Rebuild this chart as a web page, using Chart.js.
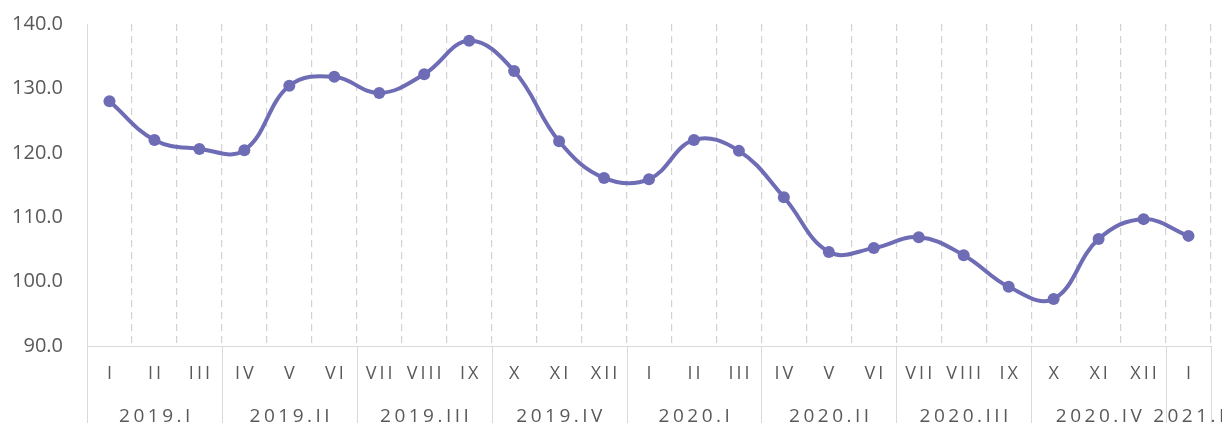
<!DOCTYPE html>
<html>
<head>
<meta charset="utf-8">
<script src="https://cdn.jsdelivr.net/npm/chart.js@4/dist/chart.umd.min.js"></script>
<style>
    html, body { margin: 0; padding: 0; background: #fff; }
    #wrap { width: 1222px; height: 423px; position: relative; }
</style>
</head>
<body>
<div id="wrap"><canvas id="chart"></canvas></div>
<script>
const months = ['I', 'II', 'III', 'IV', 'V', 'VI', 'VII', 'VIII', 'IX', 'X', 'XI', 'XII',
    'I', 'II', 'III', 'IV', 'V', 'VI', 'VII', 'VIII', 'IX', 'X', 'XI', 'XII', 'I'];
const quarters = ['2019.I', '2019.II', '2019.III', '2019.IV', '2020.I', '2020.II', '2020.III', '2020.IV', '2021.I'];
const quarterSizes = [3, 3, 3, 3, 3, 3, 3, 3, 1];
const values = [128.0, 122.0, 120.6, 120.4, 130.4, 131.8, 129.3, 132.2, 137.4, 132.7, 121.8, 116.1,
    115.9, 122.0, 120.3, 113.1, 104.6, 105.2, 106.9, 104.1, 99.2, 97.3, 106.6, 109.7, 107.1];
const yTicks = [90, 100, 110, 120, 130, 140];

const gridColor = '#d9d9d9';
const dashColor = '#d2d2d2';
const textColor = '#595959';
const fontFamily = '"Open Sans", "Noto Sans", sans-serif';

// month + quarter labels under the axis, with the solid separators
const categoryLabels = {
    id: 'categoryLabels',
    afterDraw(chart) {
        const ctx = chart.ctx;
        const x = chart.scales.x;
        const area = chart.chartArea;
        const half = (x.getPixelForValue(1) - x.getPixelForValue(0)) / 2;
        const bottom = chart.height;

        ctx.save();
        ctx.strokeStyle = gridColor;
        ctx.lineWidth = 1;
        ctx.beginPath();
        // axis line
        ctx.moveTo(area.left, area.bottom + 0.5);
        ctx.lineTo(area.right, area.bottom + 0.5);
        // left line
        ctx.moveTo(area.left + 0.5, area.top);
        ctx.lineTo(area.left + 0.5, bottom);
        let idx = 0;
        quarterSizes.forEach(n => {
            idx += n;
            const px = Math.round(x.getPixelForValue(idx - 1) + half) + 0.5;
            ctx.moveTo(px, area.bottom);
            ctx.lineTo(px, bottom);
        });
        ctx.stroke();

        ctx.fillStyle = textColor;
        ctx.textAlign = 'center';
        ctx.textBaseline = 'middle';
        ctx.font = '18px ' + fontFamily;
        ctx.letterSpacing = '3px';
        months.forEach((m, i) => {
            ctx.fillText(m, x.getPixelForValue(i) + 1.5, area.bottom + 28);
        });

        ctx.font = '19px ' + fontFamily;
        ctx.letterSpacing = '3.5px';
        idx = 0;
        quarters.forEach((q, k) => {
            const start = x.getPixelForValue(idx) - half;
            idx += quarterSizes[k];
            const end = x.getPixelForValue(idx - 1) + half;
            ctx.fillText(q, (start + end) / 2 + 2, area.bottom + 71);
        });
        ctx.restore();
    }
};

new Chart(document.getElementById('chart'), {
    type: 'line',
    data: {
        labels: months.map((m, i) => m + '-' + i),
        datasets: [{
            data: values,
            borderColor: '#6f6cb6',
            backgroundColor: '#6f6cb6',
            borderWidth: 4,
            tension: 0.4,
            pointRadius: 6,
            pointHoverRadius: 6,
            pointBorderWidth: 0,
            fill: false
        }]
    },
    options: {
        responsive: true,
        maintainAspectRatio: false,
        animation: false,
        layout: { padding: { top: 24, right: 11, left: 0, bottom: 0 } },
        plugins: {
            legend: { display: false },
            tooltip: { enabled: false }
        },
        scales: {
            x: {
                type: 'category',
                offset: true,
                grid: {
                    display: true,
                    offset: true,
                    color: (c) => c.index === 0 ? 'rgba(0,0,0,0)' : dashColor,
                    lineWidth: 1.2,
                    drawTicks: false
                },
                border: { display: false, dash: [7, 5] },
                ticks: { display: false },
                afterFit: (scale) => { scale.height = 77; scale.paddingLeft = 0; scale.paddingRight = 0; }
            },
            y: {
                min: 90,
                max: 140,
                afterBuildTicks: (scale) => { scale.ticks = yTicks.map(v => ({ value: v })); },
                grid: { display: false, drawTicks: false },
                border: { display: false },
                ticks: {
                    padding: 24,
                    color: textColor,
                    font: { size: 20, family: fontFamily },
                    callback: (v) => Number(v).toFixed(1)
                },
                afterFit: (scale) => { scale.width = 87; scale.paddingTop = 0; scale.paddingBottom = 0; }
            }
        }
    },
    plugins: [categoryLabels]
});
</script>
</body>
</html>
